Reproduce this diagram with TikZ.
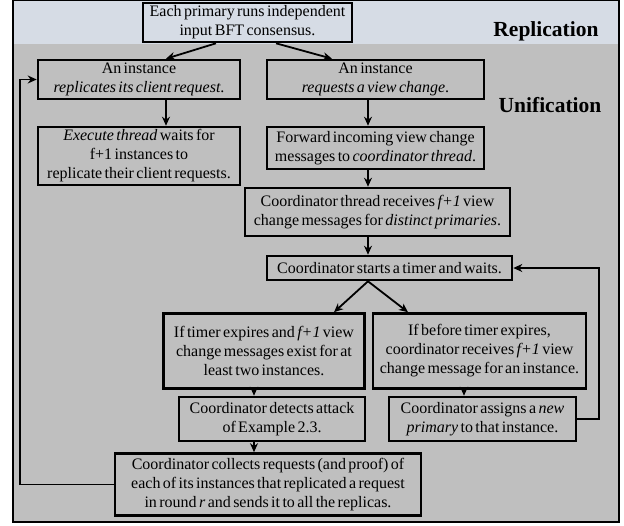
\documentclass[tikz,border=0pt]{standalone}
\usepackage{fontspec}
\setmainfont[WordSpace=0.6]{Liberation Serif}
\usetikzlibrary{arrows.meta}
\definecolor{bandblue}{HTML}{D6DCE5}
\definecolor{bggray}{HTML}{BFBFBF}
\tikzset{
  box/.style={draw=black, line width=2.6pt, align=center, inner sep=0pt, font=\fontsize{16}{19}\selectfont},
  arr/.style={line width=1.8pt, -{Stealth[length=9pt,width=8pt]}},
  lbl/.style={font=\fontsize{21.5}{24}\selectfont\bfseries},
}
\begin{document}
\begin{tikzpicture}[x=1pt,y=-1pt]
\useasboundingbox (0,0) rectangle (624,525);
\fill[bggray] (13,0) rectangle (619,522);
\fill[bandblue] (13,0) rectangle (619,44);
\draw[line width=2.4pt] (13,0) rectangle (619,522);

\node[box, fill=bandblue, minimum width=209, minimum height=39] (top) at (247.5,22.5) {Each primary runs independent\\input BFT consensus.};
\node[lbl] (rep) at (546,31) {Replication};
\node[lbl] (uni) at (550,105) {Unification};

\node[box, minimum width=202, minimum height=39] (A) at (139,79.5) {An instance\\\textit{replicates its client request}.};
\node[box, minimum width=217, minimum height=39] (B) at (375.5,79.5) {An instance\\\textit{requests a view change}.};
\node[box, minimum width=202, minimum height=58] (C) at (139,156) {\textit{Execute thread} waits for\\f+1 instances to\\replicate their client requests.};
\node[box, minimum width=217, minimum height=42] (D) at (375.5,148) {Forward incoming view change\\messages to \textit{coordinator thread}.};
\node[box, minimum width=265, minimum height=48] (E) at (377.5,212) {Coordinator thread receives \textit{f+1} view\\change messages for \textit{distinct primaries}.};
\node[box, minimum width=245, minimum height=24] (F) at (389.5,268) {Coordinator starts a timer and waits.};
\node[box, minimum width=201, minimum height=75] (G) at (264,351) {If timer expires and \textit{f+1} view\\change messages exist for at\\least two instances.};
\node[box, minimum width=213, minimum height=75] (I) at (479.5,351) {If before timer expires,\\coordinator receives \textit{f+1} view\\change message for an instance.};
\node[box, minimum width=186, minimum height=44] (H) at (272,419) {Coordinator detects attack\\of Example 2.3.};
\node[box, minimum width=187, minimum height=44] (J) at (482.5,419) {Coordinator assigns a \textit{new}\\\textit{primary} to that instance.};
\node[box, minimum width=306, minimum height=62] (K) at (268,484.5) {Coordinator collects requests (and proof) of\\each of its instances that replicated a request\\in round \textit{r} and sends it to all the replicas.};

\coordinate (xa) at (166,0);
\coordinate (xb) at (368,0);
\coordinate (xg) at (254,0);
\coordinate (xj) at (464,0);
\coordinate (rl) at (599,0);
\coordinate (ll) at (20,0);

\draw[arr] (top.south -| 216,0) -- (A.north -| xa);
\draw[arr] (top.south -| 276,0) -- (B.north -| 332,0);
\draw[arr] (A.south -| xa) -- (C.north -| xa);
\draw[arr] (B.south -| xb) -- (D.north -| xb);
\draw[arr] (D.south -| xb) -- (E.north -| xb);
\draw[arr] (E.south -| xb) -- (F.north -| xb);
\draw[arr] (F.south -| xb) -- (G.north -| 334,0);
\draw[arr] (F.south -| xb) -- (I.north -| 408,0);
\draw[arr] (G.south -| xg) -- (H.north -| xg);
\draw[arr] (H.south -| xg) -- (K.north -| xg);
\draw[arr] (I.south -| xj) -- (J.north -| xj);
\draw[arr] (J.east) -| (rl |- F.east) -- (F.east);
\draw[arr] (K.west) -| (ll |- A.west) -- (A.west);
\end{tikzpicture}
\end{document}
